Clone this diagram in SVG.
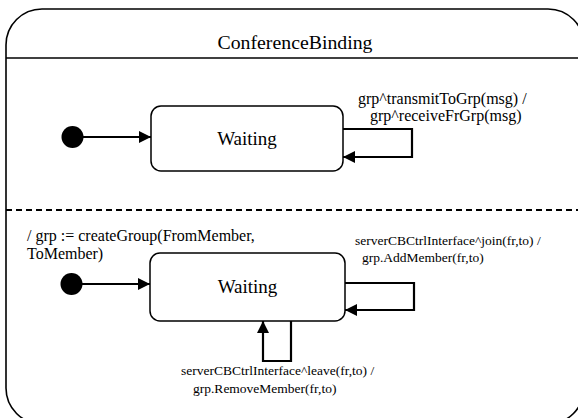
<svg xmlns="http://www.w3.org/2000/svg" width="578" height="418" viewBox="0 0 578 418">
<defs>
<marker id="arr" viewBox="0 0 12 12" refX="12" refY="6" markerWidth="12" markerHeight="12" markerUnits="userSpaceOnUse" orient="auto">
<path d="M0,0 L12,6 L0,12 Z" fill="#000"/>
</marker>
</defs>
<style>
.st{fill:#fff;stroke:#000;stroke-width:1.5}
.ln{fill:none;stroke:#000;stroke-width:2.2}
.lbl{font-size:16px}
.lbs{font-size:13.5px}
.nm{font-size:19px;text-anchor:middle}
</style>
<g font-family="'Liberation Serif', Tinos, 'Times New Roman', 'DejaVu Serif', serif" fill="#000">
<g id="frame">
<path d="M6,45 A36,36 0 0 1 42,9 H548 A36,36 0 0 1 584,45 V388 A36,36 0 0 1 548,424 H42 A36,36 0 0 1 6,388 Z" fill="#fff" stroke="#000" stroke-width="1.6"/>
<line x1="6" y1="58" x2="584" y2="58" stroke="#000" stroke-width="1.6"/>
<line x1="6" y1="210" x2="584" y2="210" stroke="#000" stroke-width="2" stroke-dasharray="6 4"/>
<text x="295" y="49" font-size="19.8" text-anchor="middle">ConferenceBinding</text>
</g>
<g id="init1"><circle cx="72.5" cy="137" r="11" fill="#000"/></g>
<g id="waiting1">
<rect class="st" x="151" y="106" width="192" height="65" rx="10"/>
<text class="nm" x="247" y="145">Waiting</text>
</g>
<g id="init2"><circle cx="71.5" cy="284" r="11" fill="#000"/></g>
<g id="waiting2">
<rect class="st" x="150" y="253" width="195" height="68" rx="10"/>
<text class="nm" x="247.5" y="293">Waiting</text>
</g>
<g id="connectors">
<line class="ln" x1="83" y1="137" x2="151" y2="137" marker-end="url(#arr)"/>
<path class="ln" d="M343,129 H412 V157 H343" marker-end="url(#arr)"/>
<line class="ln" x1="82" y1="284" x2="150" y2="284" marker-end="url(#arr)"/>
<path class="ln" d="M345,283 H414 V310 H345" marker-end="url(#arr)"/>
<path class="ln" d="M291,321 V361 H263 V321" marker-end="url(#arr)"/>
</g>
<g id="labels">
<text class="lbl" x="358" y="104">grp^transmitToGrp(msg) /</text>
<text class="lbl" x="370" y="121">grp^receiveFrGrp(msg)</text>
<text class="lbl" x="27" y="241">/ grp := createGroup(FromMember,</text>
<text class="lbl" x="27" y="259">ToMember)</text>
<text class="lbs" x="355" y="245">serverCBCtrlInterface^join(fr,to) /</text>
<text class="lbs" x="362" y="262">grp.AddMember(fr,to)</text>
<text class="lbs" x="181" y="375">serverCBCtrlInterface^leave(fr,to) /</text>
<text class="lbs" x="193" y="393">grp.RemoveMember(fr,to)</text>
</g>
</g>
</svg>
